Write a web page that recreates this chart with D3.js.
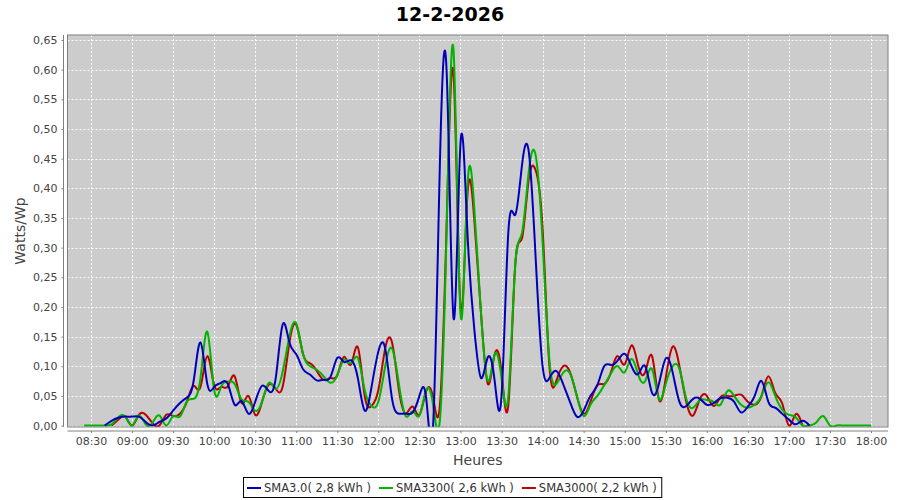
<!DOCTYPE html>
<html><head><meta charset="utf-8">
<script src="https://cdn.jsdelivr.net/npm/d3@7"></script>
<style>html,body{margin:0;padding:0;background:#fff;} svg{display:block;font-family:"DejaVu Sans",sans-serif;}</style>
</head><body><svg id="c" width="900" height="500"></svg>
<script>
// ---- data ----
const title = "12-2-2026";
const yLabel = "Watts/Wp";
const xLabel = "Heures";
const seriesNames = ["SMA3.0( 2,8 kWh )", "SMA3300( 2,6 kWh )", "SMA3000( 2,2 kWh )"];
const seriesColors = ["#0000bb", "#00b400", "#bb0000"];
const xTickLabels = ["08:30","09:00","09:30","10:00","10:30","11:00","11:30","12:00","12:30","13:00",
  "13:30","14:00","14:30","15:00","15:30","16:00","16:30","17:00","17:30","18:00"];
const yTicks = [0,0.05,0.10,0.15,0.20,0.25,0.30,0.35,0.40,0.45,0.50,0.55,0.60,0.65];
// samples every 5 minutes starting 08:25
const firstSample = "08:25";
const sampleStepMin = 5;
const sma30 = [null,null,null,
  0.0,0.008,0.013,0.015,0.015,0.015,0.006,0.0,0.006,0.012,
  0.025,0.038,0.047,0.075,0.14,0.07,0.065,0.072,0.07,0.035,
  0.041,0.02,0.04,0.067,0.058,0.08,0.17,0.14,0.12,0.095,
  0.086,0.076,0.077,0.082,0.114,0.107,0.11,0.08,0.025,0.065,
  0.125,0.13,0.045,0.02,0.02,0.022,0.05,0.045,0.0,0.445,
  0.59,0.18,0.475,0.33,0.165,0.08,0.115,0.075,0.05,0.327,
  0.355,0.44,0.46,0.28,0.1,0.08,0.092,0.07,0.04,0.015,
  0.025,0.05,0.068,0.1,0.102,0.11,0.121,0.1,0.087,0.1,
  0.055,0.07,0.113,0.09,0.04,0.033,0.045,0.045,0.035,0.038,
  0.046,0.047,0.04,0.022,0.032,0.05,0.075,0.04,0.03,0.02,
  0.01,0.002,0.008,0.0,
  null,null,null,null,null,null,null,null,null];
const sma3300 = [0,0,0,0,0.002,0.014,0.015,0.0,0.017,0.002,
  0.005,0.017,0.0,0.016,0.015,0.04,0.045,0.08,0.158,0.06,
  0.065,0.074,0.07,0.044,0.04,0.025,0.04,0.072,0.062,0.09,
  0.15,0.172,0.12,0.1,0.094,0.083,0.072,0.085,0.111,0.105,
  0.114,0.06,0.033,0.04,0.1,0.13,0.07,0.016,0.024,0.017,
  0.06,0.035,0.01,0.34,0.63,0.19,0.4,0.37,0.19,0.075,
  0.12,0.08,0.05,0.27,0.325,0.43,0.455,0.31,0.11,0.07,
  0.089,0.088,0.05,0.016,0.035,0.05,0.068,0.088,0.1,0.09,
  0.112,0.085,0.075,0.095,0.045,0.07,0.1,0.095,0.045,0.03,
  0.043,0.043,0.04,0.035,0.058,0.05,0.035,0.03,0.035,0.05,
  0.073,0.05,0.027,0.018,0.014,0.0,0.0,0.005,0.016,0.0,
  0,0,0,0,0,0];
const sma3000 = [null,null,null,null,
  0.0,0.01,0.015,0.0,0.018,0.018,0.004,0.0,0.018,0.016,
  0.02,0.04,0.067,0.065,0.117,0.068,0.065,0.066,0.083,0.038,
  0.05,0.018,0.04,0.069,0.062,0.065,0.14,0.17,0.12,0.105,
  0.092,0.077,0.08,0.085,0.116,0.103,0.132,0.05,0.033,0.06,
  0.13,0.14,0.06,0.02,0.032,0.018,0.058,0.047,0.035,0.35,
  0.59,0.2,0.385,0.35,0.19,0.07,0.12,0.09,0.035,0.27,
  0.316,0.417,0.43,0.333,0.1,0.075,0.1,0.09,0.05,0.02,
  0.04,0.068,0.07,0.09,0.117,0.103,0.135,0.1,0.09,0.117,
  0.044,0.08,0.133,0.1,0.04,0.017,0.045,0.05,0.033,0.048,
  0.05,0.05,0.052,0.04,0.035,0.05,0.083,0.055,0.038,0.0,
  0.019,0.0,
  null,null,null,null,null,null,null,null,null,null];
const seriesValues = [sma30, sma3300, sma3000];

// ---- chart ----
const svg = d3.select("#c");
const P = {x0: 67.5, x1: 888, y0: 35, y1: 427};
const day = d3.timeParse("%Y-%m-%d %H:%M");
const t0 = day("2026-02-12 " + firstSample);
const times = sma3300.map((_, i) => d3.timeMinute.offset(t0, i * sampleStepMin));
const x = d3.scaleTime()
  .domain([d3.timeSecond.offset(day("2026-02-12 08:30"), -1030), d3.timeSecond.offset(day("2026-02-12 18:00"), 745)])
  .range([P.x0, P.x1]);
const y = d3.scaleLinear().domain([-0.0025, 0.6584]).range([P.y1, P.y0]);
const comma = v => d3.format(".2f")(v).replace(".", ",");

svg.append("rect").attr("x", P.x0).attr("y", P.y0).attr("width", P.x1 - P.x0).attr("height", P.y1 - P.y0)
  .attr("fill", "#cccccc");

const xTickDates = xTickLabels.map(s => day("2026-02-12 " + s));
// grid
const grid = svg.append("g").attr("stroke", "#ffffff").attr("stroke-width", 1).attr("stroke-dasharray", "2,2").attr("opacity", 0.9);
xTickDates.forEach(d => grid.append("line").attr("x1", Math.round(x(d)) + 0.5).attr("x2", Math.round(x(d)) + 0.5).attr("y1", P.y0).attr("y2", P.y1));
yTicks.forEach(v => grid.append("line").attr("y1", Math.round(y(v)) + 0.5).attr("y2", Math.round(y(v)) + 0.5).attr("x1", P.x0).attr("x2", P.x1));

// clip
svg.append("clipPath").attr("id", "pc").append("rect")
  .attr("x", P.x0).attr("y", P.y0).attr("width", P.x1 - P.x0).attr("height", P.y1 - P.y0);

const lineGen = d3.line().defined(d => d.v != null).x(d => x(d.t)).y(d => y(d.v)).curve(d3.curveNatural);
const lines = svg.append("g").attr("clip-path", "url(#pc)");
[2, 1, 0].forEach(si => {
  const data = seriesValues[si].map((v, i) => ({t: times[i], v}));
  lines.append("path").attr("d", lineGen(data)).attr("fill", "none")
    .attr("stroke", seriesColors[si]).attr("stroke-width", 2).attr("stroke-linejoin", "round");
});

// plot border
svg.append("rect").attr("x", P.x0).attr("y", P.y0).attr("width", P.x1 - P.x0).attr("height", P.y1 - P.y0)
  .attr("fill", "none").attr("stroke", "#808080").attr("stroke-width", 1);

// axes
const yAxis = d3.axisLeft(y).tickValues(yTicks).tickFormat(comma).tickSizeOuter(0).tickSizeInner(2).tickPadding(4);
const ya = svg.append("g").attr("transform", `translate(${P.x0 - 4},0)`).call(yAxis);
const xAxis = d3.axisBottom(x).tickValues(xTickDates).tickFormat((d, i) => xTickLabels[i]).tickSizeOuter(0).tickSizeInner(2).tickPadding(4);
const xa = svg.append("g").attr("transform", `translate(0,${P.y1 + 4})`).call(xAxis);
[ya, xa].forEach(a => {
  a.select(".domain").attr("stroke", "#808080");
  a.selectAll(".tick line").attr("stroke", "#808080");
  a.selectAll(".tick text").attr("fill", "#444444").style("font-size", "11px").style("font-family", "DejaVu Sans");
});
ya.select(".domain").attr("d", `M0,${P.y0}V${P.y1}`);
xa.select(".domain").attr("d", `M${P.x0},0H${P.x1}`);

// labels
svg.append("text").attr("x", 450).attr("y", 21).attr("text-anchor", "middle")
  .style("font-size", "19px").style("font-weight", "bold").attr("fill", "#000").text(title);
svg.append("text").attr("x", (P.x0 + P.x1) / 2).attr("y", 465).attr("text-anchor", "middle")
  .style("font-size", "14px").attr("fill", "#444444").text(xLabel);
svg.append("text").attr("transform", `translate(25,${(P.y0 + P.y1) / 2}) rotate(-90)`).attr("text-anchor", "middle")
  .style("font-size", "14px").attr("fill", "#444444").text(yLabel);

// legend
const lg = svg.append("g");
const lgBox = lg.append("rect").attr("y", 477.5).attr("height", 20).attr("fill", "#fff").attr("stroke", "#000").attr("stroke-width", 1);
let cx = 247;
seriesNames.forEach((n, i) => {
  lg.append("line").attr("x1", cx).attr("x2", cx + 14).attr("y1", 488).attr("y2", 488)
    .attr("stroke", seriesColors[i]).attr("stroke-width", 2);
  const t = lg.append("text").attr("x", cx + 17).attr("y", 492).style("font-size", "11.5px").attr("fill", "#333").text(n);
  cx += 17 + t.node().getComputedTextLength() + 8;
});
lgBox.attr("x", 243.5).attr("width", cx - 8 + 5 - 243.5);
</script></body></html>
